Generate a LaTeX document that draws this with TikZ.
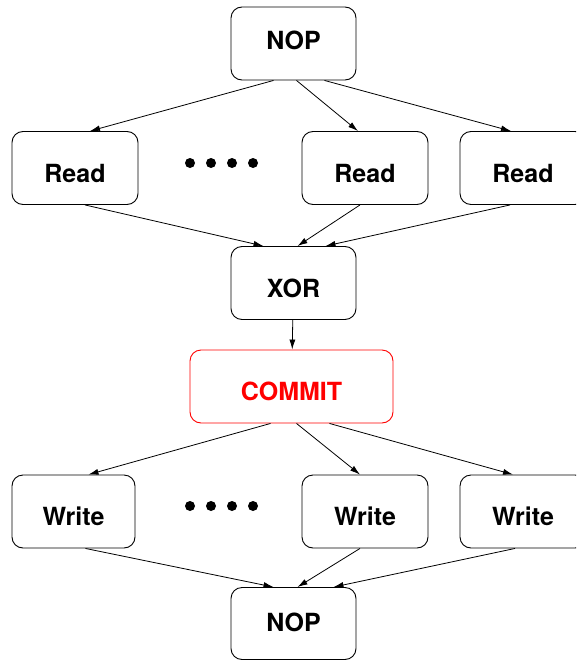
\documentclass[tikz,border=0pt]{standalone}
\usepackage{fontspec}
\setmainfont{TeX Gyre Heros}
\usetikzlibrary{arrows.meta}

\begin{document}
\begin{tikzpicture}[
    x=1pt, y=-1pt, % pixel-like units, y grows downwards
    box/.style={
        draw, % Draw a border around nodes
        rounded corners=11pt, % Rounded corners for nodes
        line width=0.9pt,
        align=center,
        inner sep=0pt,
        minimum width=125pt, minimum height=73pt,
        text height=28pt, text depth=0pt, % text sits a little below the middle
        font=\fontsize{25}{30}\selectfont\bfseries
    },
    arr/.style={line width=0.8pt, -{Latex[length=10pt,width=6pt]}}, % connector arrows
    dot/.style={circle, fill, inner sep=0pt, minimum size=10pt}
]
\useasboundingbox (0,0) rectangle (576,661);
\clip (0,0) rectangle (576,661);

% top
\node[box, text height=11pt] (nopA) at (293.5,43.5) {NOP};

% reads
\node[box, minimum width=126pt] (readA) at (75,168) {Read};
\node[box, minimum width=126pt] (readB) at (365,168) {Read};
\node[box, minimum width=126pt] (readC) at (523,168) {Read};
\foreach \i/\x in {1/190,2/211,3/232,4/253}
    \node[dot] (rdot\i) at (\x,163) {};

% xor and commit
\node[box] (xor) at (293.5,283) {XOR};
\node[box, draw=red, text=red, minimum width=203pt] (commit) at (291.5,386.5) {COMMIT};

% writes
\node[box, minimum width=123pt] (writeA) at (73.5,511.5) {Write};
\node[box, minimum width=126pt] (writeB) at (365,511.5) {Write};
\node[box, minimum width=126pt] (writeC) at (523,511.5) {Write};
\foreach \i/\x in {1/190,2/211,3/232,4/253}
    \node[dot] (wdot\i) at (\x,506) {};

% bottom
\node[box, minimum height=72pt, text height=15pt] (nopB) at (293.5,623.5) {NOP};

% connectors
\draw[arr] ([xshift=-20pt]nopA.south) -- ([xshift=15pt]readA.north);
\draw[arr] ([xshift=3pt]nopA.south) -- ([xshift=-7pt]readB.north);
\draw[arr] ([xshift=31pt]nopA.south) -- ([xshift=-12pt]readC.north);

\draw[arr] ([xshift=10pt]readA.south) -- ([xshift=-30pt]xor.north);
\draw[arr] ([xshift=-5pt]readB.south) -- ([xshift=4pt]xor.north);
\draw[arr] ([xshift=-13pt]readC.south) -- ([xshift=32pt]xor.north);

\draw[arr] (xor) -- (commit);

\draw[arr] ([xshift=-21pt]commit.south) -- ([xshift=15pt]writeA.north);
\draw[arr] ([xshift=5pt]commit.south) -- ([xshift=-5pt]writeB.north);
\draw[arr] ([xshift=38pt]commit.south) -- ([xshift=-10pt]writeC.north);

\draw[arr] ([xshift=12pt]writeA.south) -- ([xshift=-20pt]nopB.north);
\draw[arr] ([xshift=-5pt]writeB.south) -- ([xshift=4pt]nopB.north);
\draw[arr] ([xshift=-8pt]writeC.south) -- ([xshift=40pt]nopB.north);
\end{tikzpicture}
\end{document}
